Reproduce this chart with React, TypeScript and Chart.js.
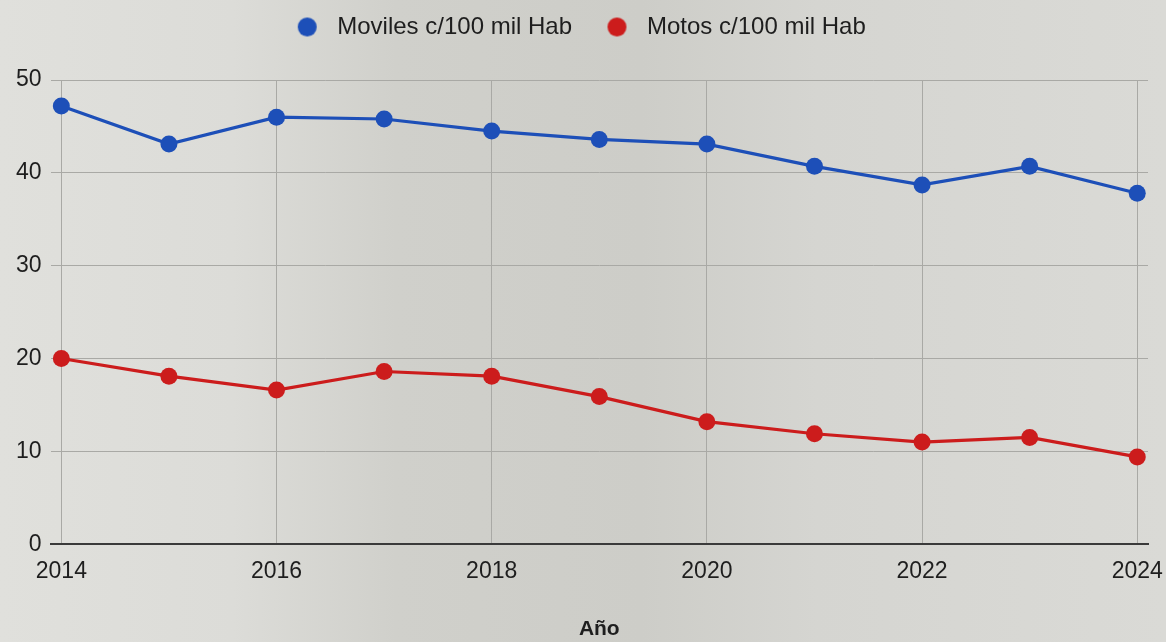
import React, { useEffect, useRef } from "react";
import { Chart, registerables } from "chart.js";

Chart.register(...registerables);

const years = [2014, 2015, 2016, 2017, 2018, 2019, 2020, 2021, 2022, 2023, 2024];
const moviles = [47.2, 43.1, 46.0, 45.8, 44.5, 43.6, 43.1, 40.7, 38.7, 40.7, 37.8];
const motos = [20.0, 18.1, 16.6, 18.6, 18.1, 15.9, 13.2, 11.9, 11.0, 11.5, 9.4];
const xTicks = [2014, 2016, 2018, 2020, 2022, 2024];
const yTicks = [0, 10, 20, 30, 40, 50];
const seriesNames = ["Moviles c/100 mil Hab", "Motos c/100 mil Hab"];
const seriesColors = ["#1d4fb8", "#cc1c1c"];
const xTitle = "Año";

const FONT = "'Liberation Sans', Arial, sans-serif";

function makeDot(color: string, r: number) {
  const c = document.createElement("canvas");
  const s = Math.ceil(r * 2) + 2;
  c.width = s;
  c.height = s;
  const ctx = c.getContext("2d")!;
  ctx.fillStyle = color;
  ctx.beginPath();
  ctx.arc(s / 2, s / 2, r, 0, Math.PI * 2);
  ctx.fill();
  return c;
}

export default function App() {
  const ref = useRef<HTMLCanvasElement | null>(null);
  useEffect(() => {
    document.body.style.margin = "0";
    if (!ref.current) return;
    const dots = seriesColors.map((c) => makeDot(c, 9.5));
    const legendMargin = {
      id: "legendMargin",
      beforeInit(chart: any) {
        const legend = chart.legend;
        if (!legend) return;
        const fit = legend.fit;
        legend.fit = function () {
          fit.bind(legend)();
          this.height = 92;
        };
      },
    };
    const chart = new Chart(ref.current, {
      type: "line",
      data: {
        datasets: [
          {
            label: seriesNames[0],
            data: years.map((y, i) => ({ x: y, y: moviles[i] })),
            borderColor: seriesColors[0],
            backgroundColor: seriesColors[0],
            borderWidth: 3.2,
            pointRadius: 8.5,
            pointHoverRadius: 8.5,
            pointBorderWidth: 0,
          },
          {
            label: seriesNames[1],
            data: years.map((y, i) => ({ x: y, y: motos[i] })),
            borderColor: seriesColors[1],
            backgroundColor: seriesColors[1],
            borderWidth: 3.2,
            pointRadius: 8.5,
            pointHoverRadius: 8.5,
            pointBorderWidth: 0,
          },
        ],
      },
      options: {
        animation: false,
        responsive: false,
        maintainAspectRatio: false,
        layout: { padding: { top: -12, left: 7, right: 18, bottom: 0 } },
        plugins: {
          tooltip: { enabled: false },
          legend: {
            position: "top",
            align: "center",
            labels: {
              usePointStyle: true,
              pointStyleWidth: 36,
              boxHeight: 13,
              padding: 27,
              color: "#1e1e1e",
              font: { family: FONT, size: 24 },
              generateLabels: (ch: any) =>
                (Chart.defaults.plugins.legend.labels.generateLabels as any)(ch).map(
                  (l: any, i: number) => ({ ...l, pointStyle: dots[i] })
                ),
            },
          },
        },
        scales: {
          x: {
            type: "linear",
            min: 2013.9,
            max: 2024.1,
            afterBuildTicks: (scale: any) => {
              scale.ticks = xTicks.map((v) => ({ value: v }));
            },
            afterFit: (scale: any) => {
              scale.paddingLeft = 0;
              scale.paddingRight = 0;
            },
            ticks: {
              autoSkip: false,
              maxRotation: 0,
              padding: 14,
              color: "#1e1e1e",
              font: { family: FONT, size: 23 },
              callback: (v: any) => String(v),
            },
            grid: { color: "#a9a9a5", lineWidth: 1, drawTicks: false },
            border: { display: true, color: "#3a3a3a", width: 2 },
            title: {
              display: true,
              text: xTitle,
              color: "#1e1e1e",
              font: { family: FONT, size: 21, weight: "bold" },
              padding: { top: 17, bottom: 0 },
            },
          },
          y: {
            type: "linear",
            min: 0,
            max: 50,
            afterBuildTicks: (scale: any) => {
              scale.ticks = yTicks.map((v) => ({ value: v }));
            },
            ticks: {
              padding: 9,
              color: "#1e1e1e",
              font: { family: FONT, size: 23 },
            },
            grid: { color: "#a9a9a5", lineWidth: 1, drawTicks: false },
            border: { display: false },
          },
        },
      },
      plugins: [legendMargin],
    } as any);
    return () => chart.destroy();
  }, []);
  return (
    <div
      style={{
        position: "absolute",
        left: 0,
        top: 0,
        width: 1166,
        height: 642,
        background:
          "linear-gradient(to right, #e0e0dc 0%, #dcdcd8 20%, #d0d0cb 34%, #cdcdc8 55%, #d5d5d1 70%, #dadad6 100%)",
      }}
    >
      <canvas ref={ref} width={1166} height={642} style={{ display: "block" }} />
    </div>
  );
}
